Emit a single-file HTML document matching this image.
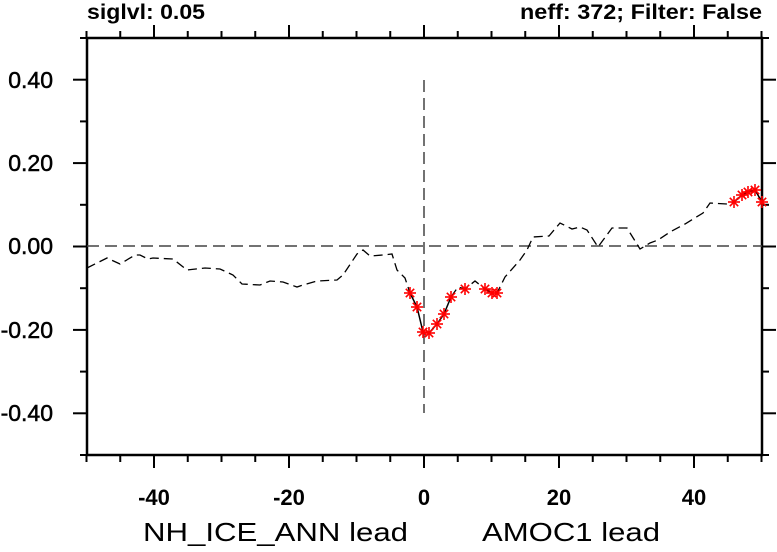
<!DOCTYPE html>
<html><head><meta charset="utf-8"><style>
html,body{margin:0;padding:0;background:#fff}
svg text{font-family:"Liberation Sans",sans-serif}
</style></head><body>
<svg width="777" height="547" viewBox="0 0 777 547" xmlns="http://www.w3.org/2000/svg">
<g stroke="#000" stroke-width="2.5" fill="none">
<rect x="87" y="38" width="675" height="417"/>
</g>
<g stroke="#000" stroke-width="2" id="ticks"></g>
<g font-size="23" fill="#000" text-anchor="end" stroke="#000" stroke-width="0.5">
<text x="53" y="88">0.40</text>
<text x="53" y="171">0.20</text>
<text x="53" y="254">0.00</text>
<text x="53" y="338">-0.20</text>
<text x="53" y="421">-0.40</text>
</g>
<g font-size="22" font-weight="bold" fill="#000" text-anchor="middle">
<text x="154" y="505">-40</text>
<text x="289" y="505">-20</text>
<text x="424" y="505">0</text>
<text x="559" y="505">20</text>
<text x="694" y="505">40</text>
</g>
<text x="143" y="541" font-size="26" textLength="265" lengthAdjust="spacingAndGlyphs">NH_ICE_ANN lead</text>
<text x="482" y="541" font-size="26" textLength="178" lengthAdjust="spacingAndGlyphs">AMOC1 lead</text>
<text x="87" y="19" font-size="21" font-weight="bold" textLength="118" lengthAdjust="spacingAndGlyphs">siglvl: 0.05</text>
<text x="520" y="19" font-size="21" font-weight="bold" textLength="242" lengthAdjust="spacingAndGlyphs">neff: 372; Filter: False</text>
<g stroke="#444" stroke-width="1.5" stroke-dasharray="12,6" fill="none">
<line x1="87" y1="246" x2="762" y2="246"/>
<line x1="424" y1="80" x2="424" y2="413"/>
</g>
<polyline fill="none" stroke="#000" stroke-width="1.3" stroke-dasharray="9,5" points="87,268 107,258 120,264 135,255 140,255 148,259 153,258 173,259 187,270 205,268 220,269 233,275 242,284 260,285 270,281 283,282 297,287 303,285 317,281 337,280 343,275 357,254 363,250 370,256 383,255 392,254 397,270 405,278 410,293"/>
<polyline fill="none" stroke="#000" stroke-width="1.5" points="410,293 417,307 423,332 429,333 437,324 444,314 451,297"/>
<polyline fill="none" stroke="#000" stroke-width="1.3" stroke-dasharray="9,5" points="451,297 458,287 465,289 475,281 485,289 492,293 497,293 505,277 520,260 527,250 533,237 549,236 560,223 572,229 580,227 587,230 598,247 612,228 627,228 640,249 650,243 658,240 670,232 685,224 703,213 710,203 727,204 734,202"/>
<polyline fill="none" stroke="#000" stroke-width="1.5" points="734,202 742,195 748,192 755,190 762,202"/>
<g id="stars" stroke="#f00" stroke-width="1.6"></g>
</svg>
<script>
var ns="http://www.w3.org/2000/svg";
var t=document.getElementById("ticks");
function L(x1,y1,x2,y2){var l=document.createElementNS(ns,"line");l.setAttribute("x1",x1);l.setAttribute("y1",y1);l.setAttribute("x2",x2);l.setAttribute("y2",y2);t.appendChild(l);}
for(var v=-50;v<=50;v+=5){var x=424+v*6.75;var maj=(v%20==0);L(x,455,x,maj?468:462);L(x,38,x,maj?25:31);}
for(var k=-5;k<=5;k++){var y=246.5-k*0.1*417;var maj=(k%2==0&&k!=-5&&k!=5);L(87,y,maj?73:80,y);L(762,y,maj?776:769,y);}
var s=document.getElementById("stars");
[[410,293],[417,307],[423,332],[429,333],[437,324],[444,314],[451,297],[465,289],[485,289],[492,293],[497,293],[734,202],[742,195],[748,192],[755,190],[762,202]].forEach(function(p){
var r=6;[[r,0],[0,r],[r*0.7,r*0.7],[r*0.7,-r*0.7]].forEach(function(d){var l=document.createElementNS(ns,"line");l.setAttribute("x1",p[0]-d[0]);l.setAttribute("y1",p[1]-d[1]);l.setAttribute("x2",p[0]+d[0]);l.setAttribute("y2",p[1]+d[1]);s.appendChild(l);});});
</script>
</body></html>
